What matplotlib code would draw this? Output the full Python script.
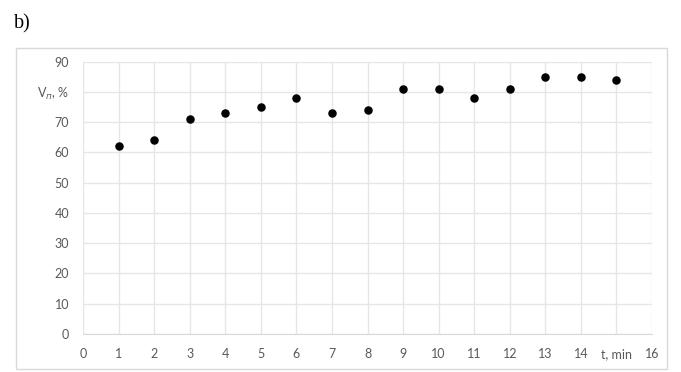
import matplotlib.pyplot as plt
from matplotlib.patches import Rectangle

plt.rcParams['font.family'] = ['Lato', 'DejaVu Sans']

# data
t = [1, 2, 3, 4, 5, 6, 7, 8, 9, 10, 11, 12, 13, 14, 15]
v = [62, 64, 71, 73, 75, 78, 73, 74, 81, 81, 78, 81, 85, 85, 84]
xticks = list(range(0, 17))
xlabels = [str(i) for i in xticks]
xlabels[15] = 't, min'
yticks = list(range(0, 91, 10))
ylabels = [str(i) for i in yticks]
ylabels[8] = 'V$_п$, %'

fig = plt.figure(figsize=(6.81, 3.72), dpi=100)
W, H = 681, 372

# outer chart frame
fig.patches.append(Rectangle((16 / W, 1 - 369 / H), 651 / W, 321 / H,
                             transform=fig.transFigure, fill=False,
                             edgecolor='#d9d9d9', linewidth=1))
fig.text(14 / W, 1 - 24 / H, 'b)', family='Liberation Serif', fontsize=14.5,
         va='center', ha='left')

ax = fig.add_axes([83 / W, 1 - 334 / H, 569 / W, 272.3 / H])
ax.scatter(t, v, s=26, color='black', zorder=3)

ax.set_xlim(0, 16)
ax.set_ylim(0, 90)
ax.set_xticks(xticks)
ax.set_xticklabels(xlabels)
ax.set_yticks(yticks)
ax.set_yticklabels(ylabels)
ax.grid(True, color='#e6e6e6', linewidth=1)
ax.set_axisbelow(True)
for s in ax.spines.values():
    s.set_visible(False)
ax.spines['bottom'].set_visible(True)
ax.spines['bottom'].set_color('#d9d9d9')
ax.tick_params(length=0, labelsize=9, labelcolor='#595959', pad=10)
ax.tick_params(axis='y', pad=10)

plt.savefig('out.png')
